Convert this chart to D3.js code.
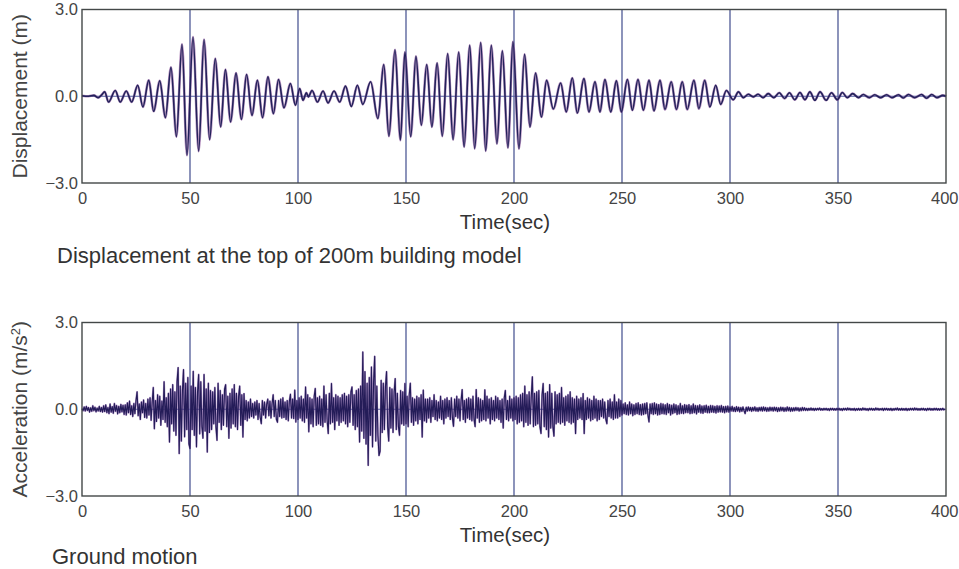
<!DOCTYPE html>
<html>
<head>
<meta charset="utf-8">
<script src="https://cdn.jsdelivr.net/npm/d3@7"></script>
<style>
  body { margin: 0; background: #fff; }
  svg { display: block; font-family: "Liberation Sans", Arial, sans-serif; }
</style>
</head>
<body>
<div id="chart"></div>
<script>
// time ticks shared by both panels
const timeTicks = [0, 50, 100, 150, 200, 250, 300, 350, 400];
const valueTicks = [-3, 0, 3];

// displacement at top of building: peaks / troughs (sec, m)
const dispTime = [0, 3, 5.5, 7.5, 9, 10.5, 12.3, 15.4, 17.7, 20.5, 23, 25.8, 28.2, 30.9, 33.2, 36, 38.6, 41.2, 43.7, 46.3,
  48.6, 51.4, 54, 56.5, 59.1, 61.7, 64.2, 66.4, 68.8, 71.3, 73.8, 76.2, 78.7, 81.2, 83.6, 86.1, 88.6, 91, 93.5, 96.5,
  98.8, 100.8, 102.3, 103.9, 104.8, 106.5, 109, 111.6, 113.9, 116.7, 119.3, 122, 124.7, 127.5, 130, 133.6, 137, 139.7, 142.1, 144.9,
  147.4, 149.5, 152.2, 154.6, 157.1, 159.6, 162, 164.4, 166.8, 169.3, 171.8, 174.4, 176.9, 179.5, 181.8, 184.6, 186.9, 189.5, 192.1, 194.6,
  197.2, 199.5, 202.3, 204.9, 207.4, 210, 212.7, 215.1, 218.2, 221.6, 224.2, 227, 229.3, 232.4, 234.7, 237.5, 239.8, 242.1, 244.8, 247.4,
  249.7, 252.5, 254.8, 257.4, 259.9, 262.5, 264.8, 267.6, 269.9, 272.8, 275.2, 277.9, 280.2, 283.3, 285.6, 288.3, 290.7, 293.4, 295.7, 298.3,
  301.5, 303.9, 306.2, 308.5, 310.8, 313, 315.3, 317.7, 320.3, 322.8, 325.3, 327.5, 330, 332.4, 334.7, 337, 339.3, 341.7, 344.5, 347,
  349.7, 352, 354.3, 356.8, 359.5, 361.7, 364.5, 367, 369.7, 372.5, 375, 378, 380.2, 382.6, 385.5, 388.7, 391, 393.4, 395.8, 398.5, 400];
const dispValue = [0.02, 0, 0.03, -0.05, 0.04, 0.15, -0.2, 0.2, -0.2, 0.18, -0.2, 0.38, -0.37, 0.55, -0.52, 0.53, -0.74, 1.0, -1.4, 1.8,
  -2.04, 2.05, -1.9, 1.96, -1.5, 1.3, -1.06, 0.92, -0.89, 0.8, -0.8, 0.75, -0.66, 0.55, -0.74, 0.67, -0.6, 0.58, -0.4, 0.44,
  -0.31, 0.27, -0.14, 0.12, -0.02, 0.2, -0.2, 0.18, -0.23, 0.18, -0.2, 0.35, -0.35, 0.38, -0.28, 0.5, -0.77, 1.1, -1.38, 1.61,
  -1.52, 1.53, -1.4, 1.38, -1.0, 1.1, -1.06, 1.15, -1.38, 1.48, -1.5, 1.53, -1.75, 1.76, -1.81, 1.86, -1.89, 1.76, -1.64, 1.57,
  -1.78, 1.88, -1.81, 1.45, -1.06, 0.8, -0.72, 0.55, -0.44, 0.46, -0.54, 0.63, -0.58, 0.61, -0.54, 0.5, -0.54, 0.58, -0.54, 0.53,
  -0.54, 0.58, -0.48, 0.58, -0.48, 0.55, -0.5, 0.55, -0.46, 0.5, -0.46, 0.5, -0.46, 0.55, -0.43, 0.55, -0.37, 0.38, -0.28, 0.2,
  -0.12, 0.15, -0.05, 0.07, -0.02, 0.07, -0.05, 0.09, -0.05, 0.12, -0.08, 0.12, -0.12, 0.13, -0.12, 0.15, -0.14, 0.15, -0.14, 0.12,
  -0.12, 0.13, -0.05, 0.09, -0.05, 0.06, -0.05, 0.05, -0.05, 0.05, -0.05, 0.05, -0.06, 0.06, -0.05, 0.06, -0.07, 0.06, -0.05, 0.03, 0];

// ground acceleration, one value every 0.5 s (m/s^2)
const accelStep = 0.5;
const accel000 = [0.02,-0.05,0.08,-0.06,0.1,-0.04,0.06,-0.1,0.05,-0.07,0.12,-0.05,0.07,-0.09,0.04,-0.06,0.1,-0.08,0.06,-0.1,
  0.12,-0.08,0.15,-0.12,0.06,-0.15,0.18,-0.1,0.09,-0.14,0.2,-0.07,0.13,-0.16,0.1,-0.12,0.17,-0.09,0.14,-0.18,
  0.15,-0.2,0.22,-0.12,0.28,-0.18,0.12,-0.25,0.2,-0.15,0.3,0.6,-0.22,0.18,-0.35,0.25,-0.12,0.32,-0.28,0.2,
  -0.3,0.35,-0.2,0.4,-0.38,0.25,0.75,-0.67,0.3,-0.42,0.5,-0.3,0.45,-0.55,0.28,-0.35,0.95,-0.45,0.4,-0.6,
  0.55,-1.13,0.7,-0.5,0.85,-0.75,0.6,-0.9,0.95,1.44,-1.53,0.8,-1.1,0.65,1.37,-0.95,0.9,-0.7,1.1,-1.2];
const accel050 = [-1.36,0.8,-0.7,1.31,-0.9,0.75,-1.3,0.6,1.2,-0.85,0.95,-0.6,-1.0,1.2,-0.75,0.7,-1.48,0.9,-0.8,0.65,
  -0.7,0.6,-0.5,0.75,-0.6,-1.07,0.9,-0.45,0.65,-0.7,0.5,-0.55,0.7,0.85,-0.6,0.45,-1.0,0.55,-0.65,0.7,
  -0.5,0.85,-0.6,0.55,-0.7,0.45,0.8,-0.55,0.5,-0.96,0.54,-0.35,0.3,-0.4,0.25,-0.3,0.35,-0.25,0.2,-0.3,
  0.25,-0.2,0.3,-0.35,0.2,-0.28,-0.5,0.3,-0.2,0.25,-0.3,0.18,0.35,-0.22,0.28,-0.3,0.2,0.5,-0.25,0.3,
  -0.35,-0.45,0.3,-0.25,0.35,-0.3,0.4,-0.28,0.25,-0.35,0.3,-0.4,0.28,0.52,-0.3,0.35,-0.32,0.66,-0.44,0.3];
const accel100 = [-0.35,0.4,-0.3,0.45,-0.4,0.35,-0.45,0.77,-0.3,0.5,-0.78,0.4,-0.5,0.35,-0.6,0.45,0.72,-0.55,0.4,-0.5,
  0.45,-0.55,0.35,-0.6,0.8,-0.45,0.5,-0.4,-0.84,0.55,-0.5,0.89,-0.45,0.4,-0.7,0.5,-0.4,0.45,-0.55,0.4,
  -0.45,0.5,-0.4,0.55,-0.5,0.45,-0.6,0.5,-0.45,0.6,0.77,-0.55,0.5,-0.7,0.65,-0.6,0.7,-1.13,0.8,-0.75,
  1.98,-1.0,1.3,-1.2,0.9,-1.94,1.1,-0.9,1.46,-1.3,0.95,1.83,-1.1,0.8,-0.9,-1.6,-1.45,1.0,-0.8,0.9,
  -0.7,0.8,1.3,-0.6,-1.1,0.75,-0.65,0.7,-0.8,0.6,1.06,-0.7,0.55,-0.6,-0.9,0.65,-0.5,0.6,-0.55,0.89];
const accel150 = [-0.5,0.45,-0.6,0.5,0.9,-0.45,0.4,-0.55,0.35,-0.4,0.45,-0.5,0.4,-0.35,0.5,-0.96,0.66,-0.4,0.35,-0.45,
  0.35,-0.3,0.4,-0.45,0.3,-0.25,0.5,-0.35,0.3,-0.4,0.25,-0.3,0.45,-0.35,0.3,-0.5,0.35,-0.3,0.4,-0.25,
  0.3,-0.35,0.4,-0.3,-0.59,0.35,-0.25,0.45,-0.3,0.35,-0.4,0.3,0.68,-0.35,0.3,-0.45,0.35,-0.3,0.4,-0.35,
  0.35,-0.4,0.45,-0.35,-0.6,0.68,-0.3,0.4,-0.45,0.35,-0.4,0.3,-0.35,0.67,-0.4,0.45,-0.3,0.35,-0.5,0.4,
  -0.35,0.3,-0.4,0.45,-0.3,0.4,-0.35,0.3,-0.45,0.35,-0.65,0.4,0.65,-0.35,0.3,-0.4,0.45,-0.3,0.35,-0.4];
const accel200 = [0.4,-0.35,0.45,-0.5,0.4,-0.45,0.5,-0.4,0.55,-0.6,0.8,-0.45,0.5,-0.55,0.6,-0.5,0.45,1.12,-0.6,0.55,
  -0.55,0.6,-0.5,0.65,-0.6,-0.84,0.5,0.89,-0.6,0.55,-0.7,0.6,-0.96,0.85,-0.65,0.55,-0.6,-0.93,0.6,-0.5,
  0.5,-0.45,0.55,-0.5,0.75,-0.45,0.4,-0.55,0.45,-0.4,0.5,-0.45,0.6,-0.5,0.4,-0.45,0.35,-0.84,0.45,-0.35,
  0.35,-0.3,0.4,-0.35,0.54,-0.84,0.3,-0.35,0.4,-0.3,0.35,-0.4,0.3,-0.35,0.45,-0.3,0.35,-0.4,0.3,-0.35,
  0.3,-0.25,0.35,-0.3,0.25,-0.35,-0.5,0.3,-0.25,0.35,-0.3,0.25,-0.35,0.5,-0.3,0.25,-0.3,0.35,-0.25,0.3];
const accel250 = [-0.2,0.18,-0.15,0.22,-0.18,0.15,-0.2,0.25,-0.15,0.18,-0.22,0.15,-0.18,0.2,-0.15,0.22,-0.18,0.16,-0.2,0.18,
  -0.18,0.2,-0.15,0.22,-0.2,-0.44,0.18,-0.15,0.2,-0.18,0.22,-0.15,0.18,-0.2,0.16,-0.18,0.2,-0.15,0.18,-0.16,
  0.15,-0.18,0.2,-0.12,0.16,-0.2,0.14,-0.15,0.18,-0.12,0.15,-0.18,0.12,-0.16,0.2,-0.14,0.12,-0.15,0.16,-0.12,
  0.14,-0.12,0.16,-0.15,0.12,-0.14,0.18,-0.12,0.13,-0.16,0.12,-0.1,0.15,-0.13,0.11,-0.14,0.12,-0.1,0.14,-0.12,
  0.1,-0.12,0.13,-0.1,0.12,-0.11,0.1,-0.13,0.12,-0.1,0.11,-0.09,0.13,-0.1,0.09,-0.12,0.1,-0.09,0.11,-0.1];
const accel300 = [0.08,-0.06,0.1,-0.07,0.06,-0.08,0.09,-0.06,0.07,-0.09,0.06,-0.07,0.08,-0.05,-0.15,0.07,-0.06,0.08,-0.05,0.06,
  -0.07,0.06,-0.05,0.08,-0.06,0.05,-0.07,0.06,-0.05,0.07,-0.06,0.08,-0.05,0.06,-0.07,0.05,-0.06,0.07,-0.05,0.06,
  -0.06,0.07,-0.05,0.06,-0.08,0.05,-0.06,0.07,-0.05,0.06,-0.07,0.05,-0.06,0.08,-0.05,0.06,-0.07,0.05,-0.06,0.05,
  -0.05,0.06,-0.04,0.05,-0.06,0.04,-0.05,0.06,-0.04,0.05,-0.04,0.03,-0.04,0.03,-0.03,0.04,-0.03,0.03,-0.04,0.03,
  -0.03,0.03,-0.02,0.04,-0.03,0.02,-0.03,0.03,-0.02,0.03,-0.03,0.02,-0.04,0.03,-0.02,0.03,-0.03,0.02,-0.03,0.03];
const accel350 = [-0.02,0.03,-0.03,0.02,-0.04,0.03,-0.02,0.03,-0.03,0.04,-0.02,0.03,-0.03,0.02,-0.03,0.03,-0.04,0.02,-0.03,0.03,
  -0.03,0.02,-0.03,0.04,-0.02,0.03,-0.03,0.02,-0.04,0.03,-0.02,0.03,-0.03,0.02,-0.03,0.04,-0.02,0.03,-0.03,0.02,
  -0.02,0.03,-0.04,0.03,-0.02,0.03,-0.03,0.02,-0.03,0.03,-0.04,0.02,-0.03,0.03,-0.02,0.04,-0.03,0.02,-0.03,0.03,
  -0.03,0.02,-0.03,0.03,-0.04,0.02,-0.03,0.03,-0.02,0.03,-0.03,0.04,-0.02,0.03,-0.03,0.02,-0.03,0.03,-0.02,0.03,
  -0.03,0.02,-0.04,0.03,-0.02,0.03,-0.03,0.02,-0.03,0.03,-0.02,0.03,-0.03,0.02,-0.03,0.02,-0.02,0.03,-0.02,0.01];

const width = 959, height = 569;
const svg = d3.select("#chart").append("svg")
    .attr("width", width)
    .attr("height", height);

const x = d3.scaleLinear().domain([0, 400]).range([82, 946]);

const dispData = dispTime.map((t, i) => ({ t, v: dispValue[i] }));
const accelData = [].concat(accel000, accel050, accel100, accel150, accel200, accel250, accel300, accel350)
    .map((v, i) => ({ t: i * accelStep, v }));

function drawPanel(top, bottom, yLabel, caption, captionX, captionY, data, curve, lineColor, lineWidth, underlay, underWidth) {
    const y = d3.scaleLinear().domain([-3, 3]).range([bottom, top]);
    const g = svg.append("g");

    // vertical grid
    g.selectAll(".vgrid")
        .data(timeTicks.slice(1, -1))
        .enter().append("line")
        .attr("x1", d => x(d)).attr("x2", d => x(d))
        .attr("y1", top).attr("y2", bottom)
        .attr("stroke", "#2f3b82")
        .attr("stroke-width", 1.1);

    // zero line
    g.append("line")
        .attr("x1", x(0)).attr("x2", x(400))
        .attr("y1", y(0)).attr("y2", y(0))
        .attr("stroke", "#4f5fa3")
        .attr("stroke-width", 1);

    const line = d3.line().x(d => x(d.t)).y(d => y(d.v)).curve(curve);
    g.append("path").datum(data)
        .attr("d", line)
        .attr("fill", "none")
        .attr("stroke", underlay)
        .attr("stroke-width", underWidth)
        .attr("stroke-linejoin", "round")
        .attr("opacity", 0.6);
    g.append("path").datum(data)
        .attr("d", line)
        .attr("fill", "none")
        .attr("stroke", lineColor)
        .attr("stroke-width", lineWidth)
        .attr("stroke-linejoin", "round");

    // frame
    g.append("rect")
        .attr("x", x(0)).attr("y", top)
        .attr("width", x(400) - x(0)).attr("height", bottom - top)
        .attr("fill", "none")
        .attr("stroke", "#434848")
        .attr("stroke-width", 1.4);

    const xAxis = g.append("g")
        .attr("transform", "translate(0," + bottom + ")")
        .call(d3.axisBottom(x).tickValues(timeTicks).tickSize(0).tickPadding(9));
    xAxis.select(".domain").remove();
    xAxis.selectAll("text").style("font-size", "16.5px").style("fill", "#444");
    xAxis.selectAll(".tick:last-of-type text").attr("text-anchor", "end").attr("x", 12);

    const yAxis = g.append("g")
        .attr("transform", "translate(" + x(0) + ",0)")
        .call(d3.axisLeft(y).tickValues(valueTicks).tickSize(0).tickPadding(4).tickFormat(d3.format(".1f")));
    yAxis.select(".domain").remove();
    yAxis.selectAll("text").style("font-size", "16.5px").style("fill", "#444");

    g.append("text")
        .attr("x", 505).attr("y", bottom + 46)
        .attr("text-anchor", "middle")
        .style("font-size", "20.5px").style("fill", "#333")
        .text("Time(sec)");

    const yl = g.append("text")
        .attr("transform", "translate(27," + ((top + bottom) / 2) + ") rotate(-90)")
        .attr("text-anchor", "middle")
        .style("font-size", "21px").style("fill", "#444");
    yLabel(yl);

    g.append("text")
        .attr("x", captionX).attr("y", captionY)
        .style("font-size", "22px").style("fill", "#333")
        .text(caption);
}

drawPanel(9.5, 183,
    t => t.text("Displacement (m)"),
    "Displacement at the top of 200m building model", 57, 263,
    dispData, d3.curveMonotoneX, "#22225a", 1.6, "#8a4f9a", 2.6);

drawPanel(322.5, 496,
    t => {
        t.append("tspan").text("Acceleration (m/s");
        t.append("tspan").attr("dy", -7).style("font-size", "13px").text("2");
        t.append("tspan").attr("dy", 7).text(")");
    },
    "Ground motion", 52, 564,
    accelData, d3.curveLinear, "#241c58", 1.1, "#7a4aa0", 1.9);
</script>
</body>
</html>
